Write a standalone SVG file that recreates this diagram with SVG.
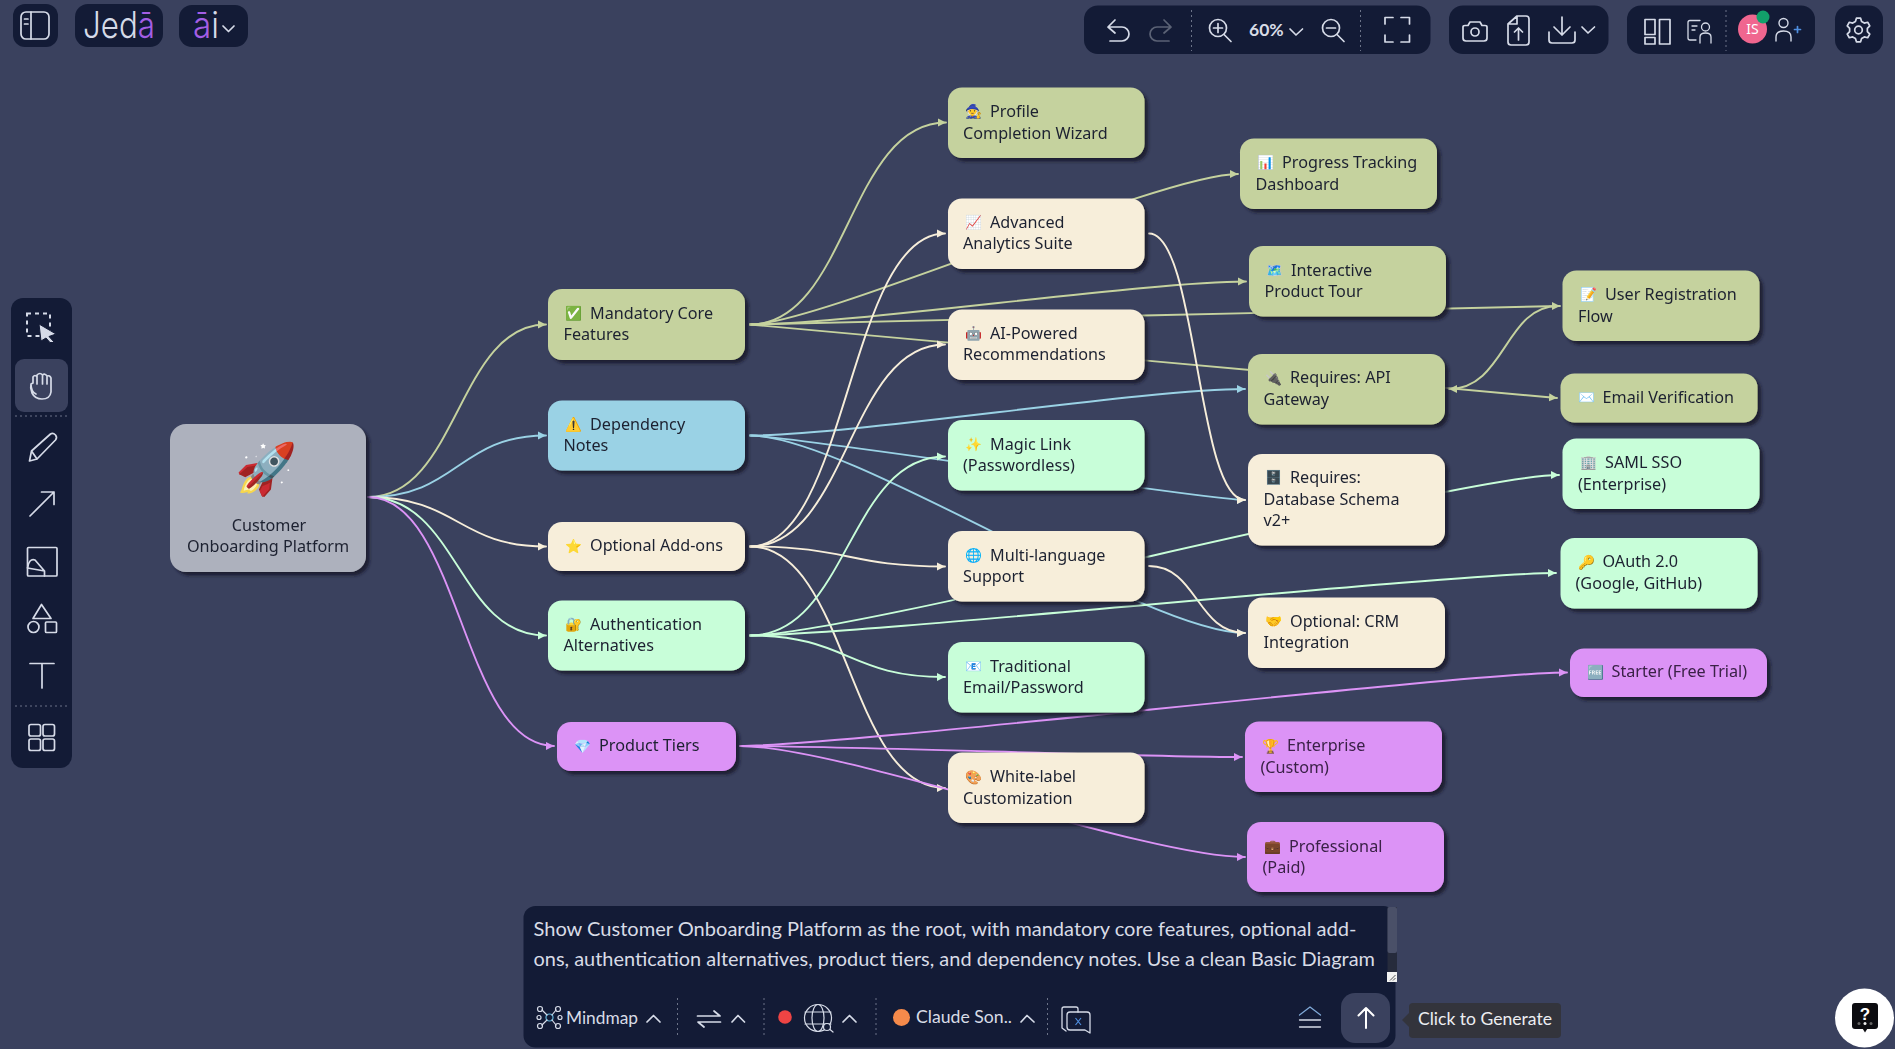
<svg xmlns="http://www.w3.org/2000/svg" width="1895" height="1049" viewBox="0 0 1895 1049">
<style>
.t{font-family:"Noto Sans","Open Sans",sans-serif;font-size:16.2px;fill:#1d2130}
.p{fill:#3a2147}
.e{font-family:"Noto Color Emoji","Noto Sans",sans-serif;font-size:13.6px}
.n{filter:url(#s)}
.green{fill:#c5d29e}.cream{fill:#f7eeda}.blue{fill:#9ad2e5}.mint{fill:#c8fed9}.purple{fill:#dc93f6}.root{fill:#adb1bd}
.c{fill:none;stroke-width:1.9;stroke-linecap:round}
.cg{stroke:#c5d29e;marker-end:url(#ag)}.cc{stroke:#f7eeda;marker-end:url(#ac)}.cb{stroke:#9ad2e5;marker-end:url(#ab)}.cm{stroke:#c8fed9;marker-end:url(#am)}.cp{stroke:#dc93f6;marker-end:url(#ap)}
.bar{fill:#131b36}
.i{fill:none;stroke:#d6dbe8;stroke-width:1.7;stroke-linecap:round;stroke-linejoin:round}
.d{stroke:#6c7388;stroke-width:1;stroke-dasharray:2 3;fill:none}
.u{font-family:"Lato","Noto Sans",sans-serif;fill:#d8dce6}
</style>
<defs>
<filter id="s" x="-10%" y="-15%" width="125%" height="135%"><feDropShadow dx="3.5" dy="3.5" stdDeviation="1.6" flood-color="#12182c" flood-opacity="0.85"/></filter>
<marker id="ag" markerUnits="userSpaceOnUse" markerWidth="10" markerHeight="10" refX="8" refY="4.5" orient="auto"><path d="M0 .5L8 4.5 0 8.5z" fill="#c5d29e"/></marker>
<marker id="ac" markerUnits="userSpaceOnUse" markerWidth="10" markerHeight="10" refX="8" refY="4.5" orient="auto"><path d="M0 .5L8 4.5 0 8.5z" fill="#f7eeda"/></marker>
<marker id="ab" markerUnits="userSpaceOnUse" markerWidth="10" markerHeight="10" refX="8" refY="4.5" orient="auto"><path d="M0 .5L8 4.5 0 8.5z" fill="#9ad2e5"/></marker>
<marker id="am" markerUnits="userSpaceOnUse" markerWidth="10" markerHeight="10" refX="8" refY="4.5" orient="auto"><path d="M0 .5L8 4.5 0 8.5z" fill="#c8fed9"/></marker>
<marker id="ap" markerUnits="userSpaceOnUse" markerWidth="10" markerHeight="10" refX="8" refY="4.5" orient="auto"><path d="M0 .5L8 4.5 0 8.5z" fill="#dc93f6"/></marker>
</defs>
<rect width="1895" height="1049" fill="#3a415e"/>

<g id="connectors">
<path class="c cg" d="M368 497C458 497 458 324.5 546 324.5"/>
<path class="c cb" d="M368 497C458 497 458 435.5 546 435.5"/>
<path class="c cc" d="M368 497C458 497 458 546.5 546 546.5"/>
<path class="c cm" d="M368 497C458 497 458 635.5 546 635.5"/>
<path class="c cp" d="M368 497C460 497 462 746 554 746"/>

<path class="c cg" d="M750 324.5C848 324.5 848 122.5 946 122.5"/>
<path class="c cg" d="M750 324.5C820 324.5 1160 174 1238 174"/>
<path class="c cg" d="M750 324.5C850 324.5 1146 281.5 1246 281.5"/>
<path class="c cg" d="M750 324.5C850 324.5 1460 306 1560 306"/>
<path class="c cg" d="M750 324.5C770 326 1500 393 1557 398"/>
<path class="c cg" d="M1558 306C1505 306 1505 389 1449 389"/>

<path class="c cb" d="M750 435.5C850 435.5 1145 389 1245 389"/>
<path class="c cb" d="M750 435.5C790 435.5 1205 500 1245 500"/>
<path class="c cb" d="M750 435.5C850 435.5 1145 633 1245 633"/>

<path class="c cc" d="M750 546.5C848 546.5 848 233.5 945 233.5"/>
<path class="c cc" d="M750 546.5C848 546.5 848 344.5 945 344.5"/>
<path class="c cc" d="M750 546.5C848 546.5 848 566.5 945 566.5"/>
<path class="c cc" d="M750 546.5C848 546.5 848 788 945 788"/>
<path class="c cc" d="M1149 233.5C1197 233.5 1197 500 1245 500"/>
<path class="c cc" d="M1149 566C1197 566 1197 633 1245 633"/>

<path class="c cm" d="M750 635.5C848 635.5 848 456.5 945 456.5"/>
<path class="c cm" d="M750 635.5C848 635.5 848 677 945 677"/>
<path class="c cm" d="M750 635.5C850 635.5 1459 475 1559 475"/>
<path class="c cm" d="M750 635.5C850 635.5 1456 573 1556 573"/>

<path class="c cp" d="M740 746C840 746 1467 672.5 1567 672.5"/>
<path class="c cp" d="M740 746C840 746 1142 757 1242 757"/>
<path class="c cp" d="M740 746C840 746 1145 857 1245 857"/>
</g>

<g id="node-root" class="n"><rect class="root" x="170" y="424" width="196" height="148" rx="16"/>
<text text-anchor="middle" class="t"><tspan class="e" style="font-size:50px" x="267" y="486">🚀</tspan><tspan x="269" y="531">Customer</tspan><tspan x="268" y="552">Onboarding Platform</tspan></text></g>

<g id="node-mandatory" class="n"><rect class="green" x="548" y="289" width="197" height="71" rx="14"/>
<text class="t"><tspan class="e" x="565" y="318">✅</tspan><tspan x="590" y="319">Mandatory Core</tspan><tspan x="563.5" y="340">Features</tspan></text></g>
<g id="node-dependency" class="n"><rect class="blue" x="548" y="400.5" width="197" height="70" rx="14"/>
<text class="t"><tspan class="e" x="565" y="429">⚠️</tspan><tspan x="590" y="430">Dependency</tspan><tspan x="563.5" y="451">Notes</tspan></text></g>
<g id="node-optional" class="n"><rect class="cream" x="548" y="522" width="197" height="49" rx="14"/>
<text class="t"><tspan class="e" x="565" y="550.5">⭐</tspan><tspan x="590" y="551">Optional Add-ons</tspan></text></g>
<g id="node-auth" class="n"><rect class="mint" x="548" y="600.5" width="197" height="70" rx="14"/>
<text class="t"><tspan class="e" x="565" y="628.5">🔐</tspan><tspan x="590" y="629.5">Authentication</tspan><tspan x="563.5" y="651">Alternatives</tspan></text></g>
<g id="node-tiers" class="n"><rect class="purple" x="557" y="722" width="179" height="49" rx="14"/>
<text class="t"><tspan class="e" x="574" y="750.5">💎</tspan><tspan x="599" y="751">Product Tiers</tspan></text></g>

<g id="node-profile" class="n"><rect class="green" x="948" y="87.5" width="196.500" height="70.5" rx="14"/>
<text class="t"><tspan class="e" x="965" y="116">🧙</tspan><tspan x="990" y="116.500">Profile</tspan><tspan x="963" y="138.500">Completion Wizard</tspan></text></g>
<g id="node-advanced" class="n"><rect class="cream" x="948" y="198.500" width="196.500" height="70.500" rx="14"/>
<text class="t"><tspan class="e" x="965" y="227">📈</tspan><tspan x="990" y="227.500">Advanced</tspan><tspan x="963" y="249">Analytics Suite</tspan></text></g>
<g id="node-ai" class="n"><rect class="cream" x="948" y="309.500" width="196.500" height="70.500" rx="14"/>
<text class="t"><tspan class="e" x="965" y="338">🤖</tspan><tspan x="990" y="338.500">AI-Powered</tspan><tspan x="963" y="360">Recommendations</tspan></text></g>
<g id="node-magic" class="n"><rect class="mint" x="948" y="420" width="196.500" height="70.500" rx="14"/>
<text class="t"><tspan class="e" x="965" y="449">✨</tspan><tspan x="990" y="449.500">Magic Link</tspan><tspan x="963" y="471">(Passwordless)</tspan></text></g>
<g id="node-multi" class="n"><rect class="cream" x="948" y="531" width="196.500" height="70.500" rx="14"/>
<text class="t"><tspan class="e" x="965" y="560">🌐</tspan><tspan x="990" y="560.500">Multi-language</tspan><tspan x="963" y="582">Support</tspan></text></g>
<g id="node-traditional" class="n"><rect class="mint" x="948" y="642" width="196.500" height="70.500" rx="14"/>
<text class="t"><tspan class="e" x="965" y="671">📧</tspan><tspan x="990" y="671.500">Traditional</tspan><tspan x="963" y="693">Email/Password</tspan></text></g>
<g id="node-white" class="n"><rect class="cream" x="948" y="752.500" width="196.500" height="70.500" rx="14"/>
<text class="t"><tspan class="e" x="965" y="781.500">🎨</tspan><tspan x="990" y="782">White-label</tspan><tspan x="963" y="803.500">Customization</tspan></text></g>

<g id="node-progress" class="n"><rect class="green" x="1240" y="138.500" width="197" height="70.500" rx="14"/>
<text class="t"><tspan class="e" x="1257" y="167">📊</tspan><tspan x="1282" y="167.500">Progress Tracking</tspan><tspan x="1255.500" y="189.500">Dashboard</tspan></text></g>
<g id="node-tour" class="n"><rect class="green" x="1249" y="246" width="197" height="70.500" rx="14"/>
<text class="t"><tspan class="e" x="1266" y="275">🗺️</tspan><tspan x="1291" y="275.500">Interactive</tspan><tspan x="1264.500" y="296.500">Product Tour</tspan></text></g>
<g id="node-api" class="n"><rect class="green" x="1248" y="354" width="197" height="70.500" rx="14"/>
<text class="t"><tspan class="e" x="1265" y="382.500">🔌</tspan><tspan x="1290" y="383">Requires: API</tspan><tspan x="1263.500" y="405">Gateway</tspan></text></g>
<g id="node-database" class="n"><rect class="cream" x="1248" y="454" width="197" height="91.500" rx="14"/>
<text class="t"><tspan class="e" x="1265" y="482">🗄️</tspan><tspan x="1290" y="482.500">Requires:</tspan><tspan x="1263.500" y="504.500">Database Schema</tspan><tspan x="1263.500" y="525.500">v2+</tspan></text></g>
<g id="node-crm" class="n"><rect class="cream" x="1248" y="597.500" width="197" height="70.500" rx="14"/>
<text class="t"><tspan class="e" x="1265" y="626">🤝</tspan><tspan x="1290" y="626.500">Optional: CRM</tspan><tspan x="1263.500" y="648">Integration</tspan></text></g>
<g id="node-enterprise" class="n"><rect class="purple" x="1245" y="721.500" width="197" height="70.500" rx="14"/>
<text class="t p"><tspan class="e" x="1262" y="750.500">🏆</tspan><tspan x="1287" y="751">Enterprise</tspan><tspan x="1260.500" y="772.500">(Custom)</tspan></text></g>
<g id="node-professional" class="n"><rect class="purple" x="1247" y="822" width="197" height="70" rx="14"/>
<text class="t p"><tspan class="e" x="1264" y="851">💼</tspan><tspan x="1289" y="851.500">Professional</tspan><tspan x="1262.500" y="872.500">(Paid)</tspan></text></g>

<g id="node-registration" class="n"><rect class="green" x="1562.500" y="270.500" width="197" height="70.500" rx="14"/>
<text class="t"><tspan class="e" x="1580" y="299">📝</tspan><tspan x="1605" y="299.500">User Registration</tspan><tspan x="1578" y="321.500">Flow</tspan></text></g>
<g id="node-email" class="n"><rect class="green" x="1560.500" y="373.500" width="197" height="49" rx="14"/>
<text class="t"><tspan class="e" x="1578" y="402">✉️</tspan><tspan x="1602.500" y="402.500">Email Verification</tspan></text></g>
<g id="node-saml" class="n"><rect class="mint" x="1562.500" y="438.500" width="197" height="70.500" rx="14"/>
<text class="t"><tspan class="e" x="1580" y="467">🏢</tspan><tspan x="1605" y="467.500">SAML SSO</tspan><tspan x="1578" y="489.500">(Enterprise)</tspan></text></g>
<g id="node-oauth" class="n"><rect class="mint" x="1560.500" y="538" width="197" height="70.500" rx="14"/>
<text class="t"><tspan class="e" x="1578" y="566.500">🔑</tspan><tspan x="1602.500" y="567">OAuth 2.0</tspan><tspan x="1575.500" y="589">(Google, GitHub)</tspan></text></g>
<g id="node-starter" class="n"><rect class="purple" x="1570" y="648.500" width="197" height="48.500" rx="14"/>
<text class="t p"><tspan class="e" x="1587" y="676.500">🆓</tspan><tspan x="1611.500" y="677">Starter (Free Trial)</tspan></text></g>

<g id="ui-top-left">
<rect class="bar" x="13" y="4" width="45" height="43" rx="12"/>
<rect class="i" x="21" y="12" width="28" height="27" rx="5"/><path class="i" d="M31 12V39M24.500 19H28M24.500 24H28"/>
<rect class="bar" x="75" y="4" width="88" height="43" rx="13"/>
<text x="83" y="38" font-family="Inter,sans-serif" font-size="37" font-weight="300" fill="#d6dbe8" textLength="72" lengthAdjust="spacingAndGlyphs">Jed<tspan fill="#a45ee5">ā</tspan></text>
<rect class="bar" x="179" y="5" width="69" height="42" rx="13"/>
<text x="193" y="38" font-family="Inter,sans-serif" font-size="37" font-weight="300" fill="#a45ee5" textLength="26" lengthAdjust="spacingAndGlyphs">ā<tspan fill="#d6dbe8">i</tspan></text>
<path class="i" d="M223 26L228.500 31.500 234 26"/>
</g>

<g id="ui-top-right">
<rect class="bar" x="1084" y="5.500" width="346.500" height="48.500" rx="14"/>
<path class="i" d="M1115 20L1108 27 1115 33M1108 27H1122A7 7 0 0 1 1122 41H1110"/>
<path class="i" style="stroke:#5b6275" d="M1164 20L1171 27 1164 33M1171 27H1157A7 7 0 0 0 1157 41H1169"/>
<path class="d" d="M1191.500 10V51M1360.500 10V51"/>
<circle class="i" cx="1218" cy="28" r="8.500"/><path class="i" d="M1224 34.500L1231 41.500M1218 23.500V32.500M1213.500 28H1222.500"/>
<text x="1249" y="36" font-family="Lato,sans-serif" font-size="17.500" font-weight="700" fill="#d8dce6">60%</text>
<path class="i" d="M1290 29L1296 35 1302.500 29"/>
<circle class="i" cx="1331" cy="28" r="8.500"/><path class="i" d="M1337 34.500L1344 41.500M1326.500 28H1335.500"/>
<path class="i" d="M1385 24V17.500H1393M1401 17.500H1409.500V24M1385 35V42H1393M1401 42H1409.500V35"/>

<rect class="bar" x="1449" y="5.500" width="159.500" height="48.500" rx="14"/>
<path class="i" d="M1463 27Q1463 25.500 1465 25.500H1468L1470 22H1480L1482 25.500H1485Q1487 25.500 1487 27V38Q1487 41 1484 41H1466Q1463 41 1463 38Z"/><circle class="i" cx="1475" cy="32" r="4"/>
<path class="i" d="M1508 24L1517 16H1526Q1529 16 1529 19V42Q1529 45 1526 45H1511Q1508 45 1508 42ZM1508 24H1517V16M1518.500 40V28M1514.500 32L1518.500 28 1522.500 32"/>
<path class="i" d="M1562 17V35M1554 27L1562 35 1570 27M1549 32V40Q1549 43 1552 43H1572Q1575 43 1575 40V32"/>
<path class="i" d="M1582 27L1588 33 1594.500 27"/>

<rect class="bar" x="1627" y="5.500" width="188" height="48.500" rx="14"/>
<rect class="i" x="1645" y="19.500" width="10" height="15"/><rect class="i" x="1645" y="37.500" width="10" height="6.500"/><rect class="i" x="1659.500" y="19.500" width="10.500" height="24.500"/>
<path class="i" style="stroke-width:1.300" d="M1700 20.500H1690Q1688 20.500 1688 22.500V38Q1688 40 1690 40H1696M1692 26H1697M1692 30H1695M1711 43V37Q1711 33 1705.500 33 1700 33 1700 37V43"/><circle class="i" style="stroke-width:1.300" cx="1705.500" cy="27" r="4"/>
<path class="d" d="M1726 10V51"/>
<circle cx="1752.500" cy="29" r="14.500" fill="#f0668f"/>
<text x="1752.500" y="34" text-anchor="middle" font-family="Noto Sans,sans-serif" font-size="14" fill="#fff">IS</text>
<circle cx="1763" cy="17" r="6.500" fill="#12a06a"/>
<circle class="i" cx="1783.500" cy="23" r="4.500" style="stroke-width:1.400"/><path class="i" style="stroke-width:1.400" d="M1776 41V37Q1776 31 1783.500 31 1791 31 1791 37V41"/>
<path class="i" style="stroke:#4f8fe0" d="M1794.500 29.500H1800.500M1797.500 26.500V32.500"/>

<rect class="bar" x="1835" y="5.500" width="48" height="48.500" rx="14"/>
<g transform="translate(1858.500 30)"><path class="i" d="M-2.080 -11.820L2.080 -11.820 3.080 -8.460 5.790 -6.890 9.190 -7.710 11.280 -4.100 8.860 -1.560 8.860 1.560 11.280 4.100 9.190 7.710 5.790 6.890 3.080 8.460 2.080 11.820 -2.080 11.820 -3.080 8.460 -5.790 6.890 -9.190 7.710 -11.280 4.100 -8.860 1.560 -8.860 -1.560 -11.280 -4.100 -9.190 -7.710 -5.790 -6.890 -3.080 -8.460Z"/><circle class="i" r="3.800"/></g>
</g>

<g id="ui-left-toolbar">
<rect class="bar" x="11" y="298" width="61" height="470" rx="12"/>
<rect x="27" y="313.500" width="23" height="22.500" fill="none" stroke="#d6dbe8" stroke-width="2" stroke-dasharray="4 4"/>
<path d="M39 324L56 334 49 336.500 54.500 342.500 50 342.500 46 338 41 341Z" fill="#d6dbe8" stroke="#131b36" stroke-width="1"/>
<rect x="15" y="359" width="53" height="53" rx="9" fill="#3a415e"/>
<path class="i" d="M32 393Q30 388 31 384L33 383V377Q35 374 37 377V375Q40 372 42.500 375 45 373 47 376 50 375 51 378L51 392Q50 399 42 399 35 399 32 393ZM31 384Q31 392 36 394M37 377V384M42.500 375V384M47 376V384"/>
<path class="d" d="M15 416H67M15 706H67"/>
<path class="i" d="M29.500 461L31.500 451 50.500 434Q53 432.500 55.500 435 57.500 437.500 55.500 440L37 459ZM31.500 451L37 459"/>
<path class="i" d="M30 516L54 492M41.500 492H54V504.500"/>
<rect class="i" x="27.500" y="547.500" width="29.500" height="28.500" rx="1"/><path class="i" d="M27.500 568Q29 558 35 560L44.500 571 44.500 576M27.500 568L44.500 571"/>
<path class="i" d="M33 618.500L41.500 604.500 51 618.500Z"/><circle class="i" cx="33.500" cy="627" r="5.500"/><rect class="i" x="45.500" y="622" width="11" height="10.500" rx="1"/>
<path class="i" d="M30 663.500H54M42 663.500V688"/>
<rect class="i" x="29" y="724.500" width="11.500" height="11.500" rx="2"/><rect class="i" x="43" y="724.500" width="11.500" height="11.500" rx="2"/><rect class="i" x="29" y="739" width="11.500" height="11.500" rx="2"/><rect class="i" x="43" y="739" width="11.500" height="11.500" rx="2"/>
</g>

<g id="ui-prompt">
<rect class="bar" x="523.500" y="906" width="872" height="141.500" rx="12"/>
<rect x="1387.500" y="907" width="9.500" height="65" fill="#262b3c"/>
<rect x="1387.500" y="907" width="9.500" height="46" rx="2" fill="#4a5068"/>
<rect x="1387" y="972" width="10" height="10" fill="#f2f2f2"/><path d="M1390 980.500L1395.500 975M1393 980.500L1395.500 978" stroke="#555" fill="none"/>
<text class="u" x="533.500" y="935.500" font-size="20" textLength="823" lengthAdjust="spacingAndGlyphs">Show Customer Onboarding Platform as the root, with mandatory core features, optional add-</text>
<text class="u" x="533.500" y="966" font-size="20" textLength="841.500" lengthAdjust="spacingAndGlyphs">ons, authentication alternatives, product tiers, and dependency notes. Use a clean Basic Diagram</text>

<g class="i" style="stroke-width:1.200"><circle cx="549.500" cy="1017.500" r="3.500" style="stroke:#5fb3d9"/><circle cx="540" cy="1009" r="2.500"/><circle cx="558" cy="1009" r="2.500"/><circle cx="540" cy="1026" r="2.500"/><circle cx="558" cy="1026" r="2.500"/><circle cx="539" cy="1017.500" r="2"/><circle cx="560" cy="1017.500" r="2"/><path d="M542 1010L547 1015M556 1010L552 1015M542 1025L547 1020M556 1025L552 1020"/></g>
<text class="u" x="566" y="1024" font-size="17.500" textLength="72" lengthAdjust="spacingAndGlyphs">Mindmap</text>
<path class="i" d="M647 1022L653.500 1015.500 660 1022"/>
<path class="d" d="M677.500 998V1037M764 998V1037M876 998V1037M1047.500 998V1037"/>
<path class="i" d="M697.500 1016H720L714 1011M720.500 1022H698L704 1027"/>
<path class="i" d="M732 1022L738 1015.500 744.500 1022"/>
<circle cx="785" cy="1017" r="6.800" fill="#ee4444"/>
<g class="i" style="stroke-width:1.200"><circle cx="818" cy="1018" r="13.500"/><ellipse cx="818" cy="1018" rx="6" ry="13.500"/><path d="M805 1012H831M805 1024H831"/><circle cx="827" cy="1027" r="3.500" fill="#131b36"/><path d="M830 1029.500L833 1032"/></g>
<path class="i" d="M843 1022L849.500 1015.500 856 1022"/>
<circle cx="901.500" cy="1017.500" r="8.500" fill="#f58a4b"/>
<text class="u" x="916" y="1023" font-size="17.500" textLength="96" lengthAdjust="spacingAndGlyphs">Claude Son..</text>
<path class="i" d="M1021 1022L1027 1015.500 1034 1022"/>
<path class="i" style="stroke-width:1.300" d="M1078 1012V1009Q1078 1007 1076 1007H1064Q1062 1007 1062 1009V1028L1066 1031"/><path class="i" style="stroke-width:1.300" d="M1070 1012H1087Q1090 1012 1090 1015V1033L1085 1030H1070Q1067 1030 1067 1027V1015Q1067 1012 1070 1012Z"/>
<path d="M1075.500 1018L1081 1025M1081 1018L1075.500 1025" stroke="#4f8fe0" stroke-width="1.200" fill="none"/>
<path class="i" style="stroke:#7fa8d6;stroke-width:1.300" d="M1299.500 1015L1310 1007 1320.500 1015"/><path class="i" style="stroke-width:1.300" d="M1299.500 1020H1320.500M1299.500 1027H1320.500"/>
<rect x="1341" y="993" width="49" height="50" rx="14" fill="#3a415e"/>
<path d="M1366 1028V1008M1358.500 1015.500L1366 1008 1373.500 1015.500" fill="none" stroke="#fff" stroke-width="2" stroke-linecap="round" stroke-linejoin="round"/>
</g>

<g id="ui-tooltip">
<path d="M1409 1013L1402 1020 1409 1027Z" fill="#33343c"/>
<rect x="1409" y="1003" width="152" height="35" rx="4" fill="#33343c"/>
<text x="1418" y="1025" font-family="Lato,sans-serif" font-size="17" fill="#eceef2" textLength="134" lengthAdjust="spacingAndGlyphs">Click to Generate</text>
</g>

<g id="ui-help">
<circle cx="1864.500" cy="1018" r="29.500" fill="#fff"/>
<rect x="1852" y="1003" width="26" height="26" rx="3" fill="#0c0c10"/><path d="M1862.500 1028.500L1865 1032.500 1867.500 1028.500Z" fill="#0c0c10"/>
<text x="1865" y="1020" text-anchor="middle" font-family="Liberation Sans,sans-serif" font-weight="700" font-size="17" fill="#fff">?</text>
<circle cx="1859" cy="1023.500" r="1.500" fill="#666"/><circle cx="1865" cy="1023.500" r="1.500" fill="#eee"/><circle cx="1871" cy="1023.500" r="1.500" fill="#666"/>
</g>
</svg>
